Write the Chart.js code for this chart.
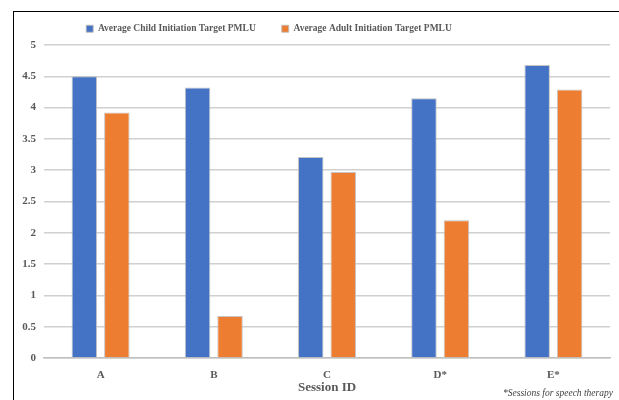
<!DOCTYPE html>
<html>
<head>
<meta charset="utf-8">
<script src="https://cdn.jsdelivr.net/npm/chart.js@4/dist/chart.umd.min.js"></script>
<style>
  html, body { margin: 0; padding: 0; background: #fff; }
  #wrap { position: relative; width: 619px; height: 400px; overflow: hidden; }
  #frame { position: absolute; left: 13px; top: 11px; width: 700px; height: 500px;
           border-left: 1.5px solid #000; border-top: 1.5px solid #000; pointer-events: none; }
  #note { position: absolute; right: 6px; top: 388px; font: italic 9.5px "Liberation Serif", serif;
          color: #404040; white-space: nowrap; }
  canvas { position: absolute; left: 0; top: 0; }
</style>
</head>
<body>
<div id="wrap">
  <canvas id="c" width="619" height="400"></canvas>
  <div id="frame"></div>
  <div id="note">*Sessions for speech therapy</div>
</div>
<script>
// Session categories and the two PMLU averages per session
const sessions = ['A', 'B', 'C', 'D*', 'E*'];
const childPMLU = [4.50, 4.32, 3.21, 4.15, 4.68];
const adultPMLU = [3.92, 0.67, 2.97, 2.20, 4.29];
const yTicks = [0, 0.5, 1, 1.5, 2, 2.5, 3, 3.5, 4, 4.5, 5];

const serif = '"Liberation Serif", "Times New Roman", serif';
const textGray = '#595959';

// Legend block: fixed height, shifted a little left of centre
const legendPlacement = {
  id: 'legendPlacement',
  beforeLayout(chart) {
    const lg = chart.legend;
    if (lg && !lg._fixedFit) {
      const fit = lg.fit.bind(lg);
      lg.fit = function () { fit(); this.height = 47; };
      lg._fixedFit = true;
    }
  },
  afterLayout(chart) {
    const lg = chart.legend;
    if (lg) { lg.left -= 36; lg.right -= 36; }
  }
};

new Chart(document.getElementById('c'), {
  type: 'bar',
  data: {
    labels: sessions,
    datasets: [
      { label: 'Average Child Initiation Target PMLU', data: childPMLU,
        backgroundColor: '#4472C4', borderColor: 'rgba(190,190,190,0.9)', borderWidth: 1,
        categoryPercentage: 0.574, barPercentage: 0.785 },
      { label: 'Average Adult Initiation Target PMLU', data: adultPMLU,
        backgroundColor: '#ED7D31', borderColor: 'rgba(190,190,190,0.9)', borderWidth: 1,
        categoryPercentage: 0.574, barPercentage: 0.785 }
    ]
  },
  plugins: [legendPlacement],
  options: {
    responsive: false,
    animation: false,
    layout: { padding: { left: 0, right: 9, top: -2, bottom: 5 } },
    plugins: {
      legend: {
        position: 'top',
        labels: {
          boxWidth: 7, boxHeight: 7, padding: 26,
          color: textGray,
          font: { family: serif, size: 9.5, weight: 'bold' }
        }
      },
      tooltip: { enabled: false }
    },
    scales: {
      x: {
        afterFit: (scale) => { scale.height = 37; },
        grid: { display: false },
        border: { color: '#bfbfbf', width: 1.5 },
        ticks: { color: textGray, font: { family: serif, size: 11, weight: 'bold' }, padding: 3 },
        title: { display: true, text: 'Session ID', color: textGray,
                 font: { family: serif, size: 13, weight: 'bold' }, padding: { top: 0, bottom: 0 } }
      },
      y: {
        min: 0, max: 5,
        afterBuildTicks: (scale) => { scale.ticks = yTicks.map(v => ({ value: v })); },
        afterFit: (scale) => { scale.width = 44; },
        grid: { color: '#d0d0d0', lineWidth: 1.5, drawTicks: false },
        border: { display: false },
        ticks: { color: textGray, font: { family: serif, size: 11, weight: 'bold' }, padding: 8,
                 callback: (v) => String(v) }
      }
    }
  }
});
</script>
</body>
</html>
